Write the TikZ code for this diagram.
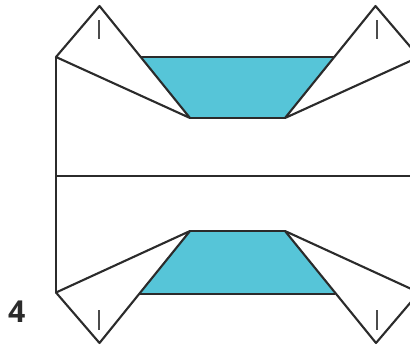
\documentclass[tikz,border=0pt]{standalone}
\usepackage{fontspec}
\setsansfont{Open Sans}
\usepackage{tikz}
\definecolor{flapblue}{RGB}{86,197,216}
\definecolor{inkgrey}{RGB}{43,43,43}
\tikzset{
  fold/.style={line width=0.6pt,color=inkgrey,line join=round},
  edge/.style={line width=0.75pt,color=inkgrey},
  tick/.style={line width=0.7pt,color=inkgrey!85}
}

\begin{document}
\begin{tikzpicture}
%\draw[help lines] (0,0) grid (4.1,3.45);
\useasboundingbox (0,0) rectangle (4.1,3.45);
\clip (0,0) rectangle (4.1,3.45);

\fill[flapblue] (1.41,2.88)--(3.34,2.88)--(2.85,2.27)--(1.90,2.27)--cycle;
\draw[edge] (1.41,2.88)--(3.34,2.88);
\draw[edge] (1.90,2.27)--(2.85,2.27);
\draw[fold] (0.56,2.88)--(0.995,3.39)--(1.90,2.27)--cycle;
\draw[fold] (4.19,2.88)--(3.755,3.39)--(2.85,2.27)--cycle;
\draw[tick] (0.99,3.25)--(0.99,3.06);
\draw[tick] (3.77,3.25)--(3.77,3.06);

\draw[edge] (0.56,2.88)--(0.56,0.525);
\draw[fold] (0.56,1.693)--(4.1,1.693);

\fill[flapblue] (1.395,0.51)--(3.35,0.51)--(2.85,1.14)--(1.90,1.14)--cycle;
\draw[edge] (1.395,0.51)--(3.35,0.51);
\draw[edge] (1.90,1.14)--(2.85,1.14);
\draw[fold] (0.56,0.525)--(0.995,0.02)--(1.90,1.14)--cycle;
\draw[fold] (4.19,0.525)--(3.76,0.02)--(2.85,1.14)--cycle;
\draw[tick] (0.99,0.35)--(0.99,0.15);
\draw[tick] (3.77,0.35)--(3.77,0.15);

\node[inner sep=0pt,color=inkgrey] (stepnum) at (0.167,0.33){\fontsize{8.6}{10}\sffamily\bfseries 4};
\end{tikzpicture}
\end{document}
